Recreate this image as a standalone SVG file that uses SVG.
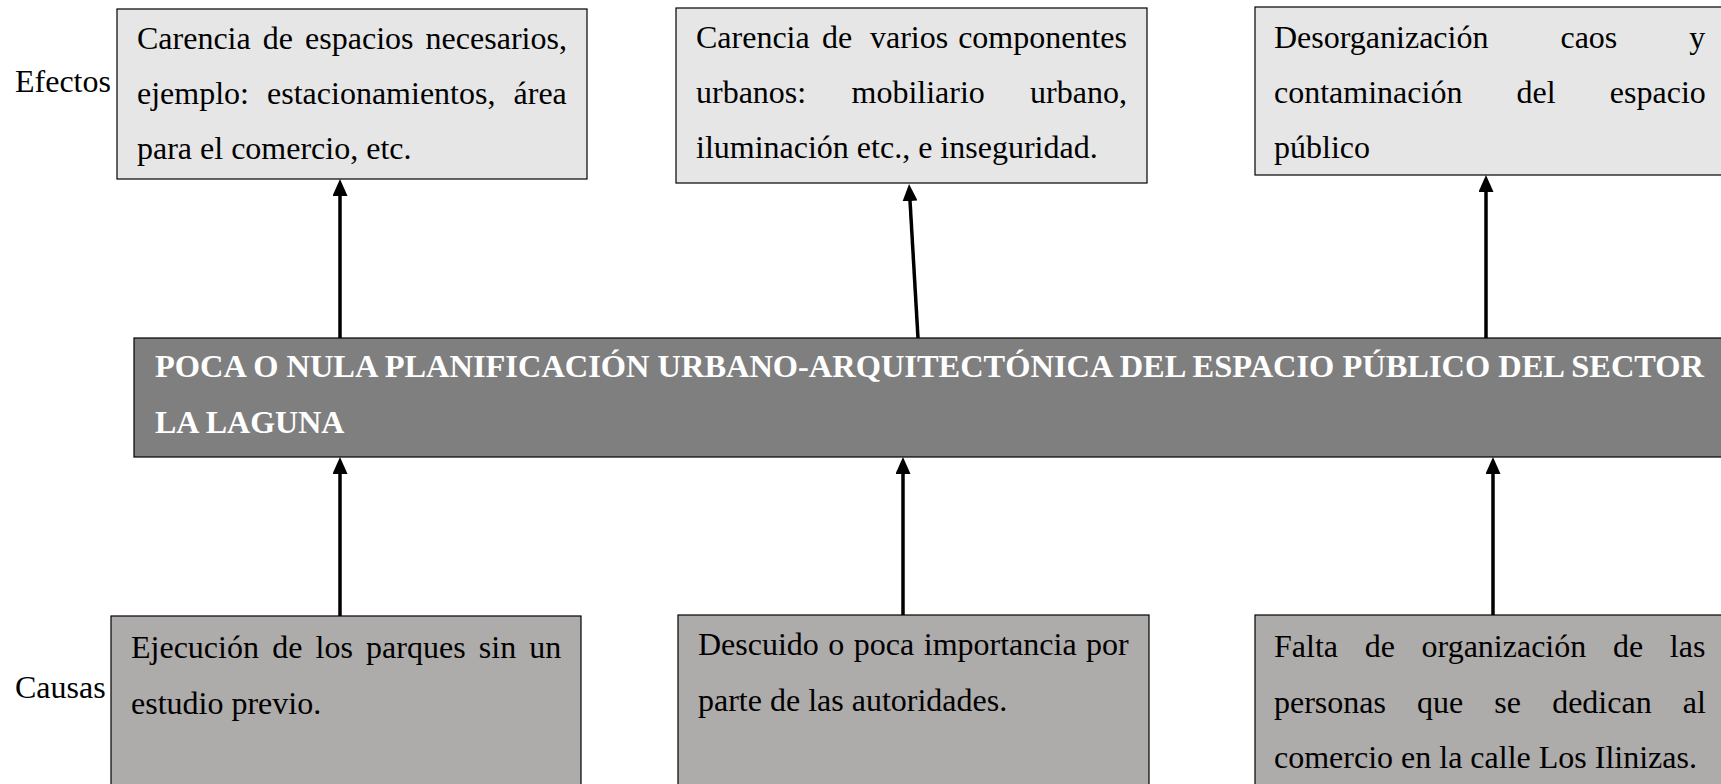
<svg xmlns="http://www.w3.org/2000/svg" width="1721" height="784" viewBox="0 0 1721 784">
<defs>
<style>
.t{font-family:"Liberation Serif","Times New Roman",serif;font-size:32px;fill:#000}
.h{font-family:"Liberation Serif","Times New Roman",serif;font-size:32px;font-weight:bold;fill:#fff}
.eff{fill:#e6e6e6;stroke:#000;stroke-width:1.2}
.mid{fill:#7f7f7f;stroke:#000;stroke-width:1.2}
.cau{fill:#aeabab;stroke:#000;stroke-width:1.2}
.ar{stroke:#000;stroke-width:3.5;fill:none;marker-end:url(#ah)}
</style>
<marker id="ah" viewBox="0 0 17 15" markerWidth="17" markerHeight="15" refX="9" refY="7.5" orient="auto" markerUnits="userSpaceOnUse">
<path d="M0,0 L17,7.5 L0,15 z" fill="#000"/>
</marker>
</defs>
<rect width="1721" height="784" fill="#fff"/>

<text class="t" x="15" y="92">Efectos</text>
<text class="t" x="15" y="698">Causas</text>

<g id="efecto1">
<rect class="eff" x="117" y="9" width="470" height="170"/>
<text class="t" x="137" y="49" word-spacing="4.1">Carencia de espacios necesarios,</text>
<text class="t" x="137" y="104" word-spacing="10.1">ejemplo: estacionamientos, área</text>
<text class="t" x="137" y="159">para el comercio, etc.</text>
</g>

<g id="efecto2">
<rect class="eff" x="676" y="8" width="471" height="175"/>
<text class="t" y="48"><tspan x="696">Carencia</tspan><tspan x="822">de</tspan><tspan x="870">varios</tspan><tspan x="1127" text-anchor="end">componentes</tspan></text>
<text class="t" x="696" y="103" word-spacing="37.3">urbanos: mobiliario urbano,</text>
<text class="t" x="696" y="158">iluminación etc., e inseguridad.</text>
</g>

<g id="efecto3">
<rect class="eff" x="1255" y="7" width="472" height="168"/>
<text class="t" x="1274" y="48" word-spacing="64">Desorganización caos y</text>
<text class="t" x="1274" y="103" word-spacing="46.2">contaminación del espacio</text>
<text class="t" x="1274" y="158">público</text>
</g>

<g id="problema">
<rect class="mid" x="134" y="338" width="1595" height="119"/>
<text class="h" x="155" y="377" textLength="1549" lengthAdjust="spacingAndGlyphs">POCA O NULA PLANIFICACIÓN URBANO-ARQUITECTÓNICA DEL ESPACIO PÚBLICO DEL SECTOR</text>
<text class="h" x="155" y="433">LA LAGUNA</text>
</g>

<g id="causa1">
<rect class="cau" x="111" y="616" width="470" height="180"/>
<text class="t" x="131" y="658" word-spacing="5.2">Ejecución de los parques sin un</text>
<text class="t" x="131" y="714">estudio previo.</text>
</g>

<g id="causa2">
<rect class="cau" x="678" y="615" width="471" height="180"/>
<text class="t" x="698" y="655" word-spacing="1.5">Descuido o poca importancia por</text>
<text class="t" x="698" y="711">parte de las autoridades.</text>
</g>

<g id="causa3">
<rect class="cau" x="1255" y="615" width="472" height="180"/>
<text class="t" x="1274" y="657" word-spacing="18.7">Falta de organización de las</text>
<text class="t" x="1274" y="713" word-spacing="23.1">personas que se dedican al</text>
<text class="t" x="1274" y="768">comercio en la calle Los Ilinizas.</text>
</g>

<g id="conectores">
<line class="ar" x1="340" y1="338" x2="340" y2="187"/>
<line class="ar" x1="918" y1="338" x2="909.5" y2="192"/>
<line class="ar" x1="1486" y1="338" x2="1486" y2="183"/>
<line class="ar" x1="340" y1="616" x2="340" y2="465"/>
<line class="ar" x1="903" y1="615" x2="903" y2="465"/>
<line class="ar" x1="1493" y1="615" x2="1493" y2="465"/>
</g>
</svg>
